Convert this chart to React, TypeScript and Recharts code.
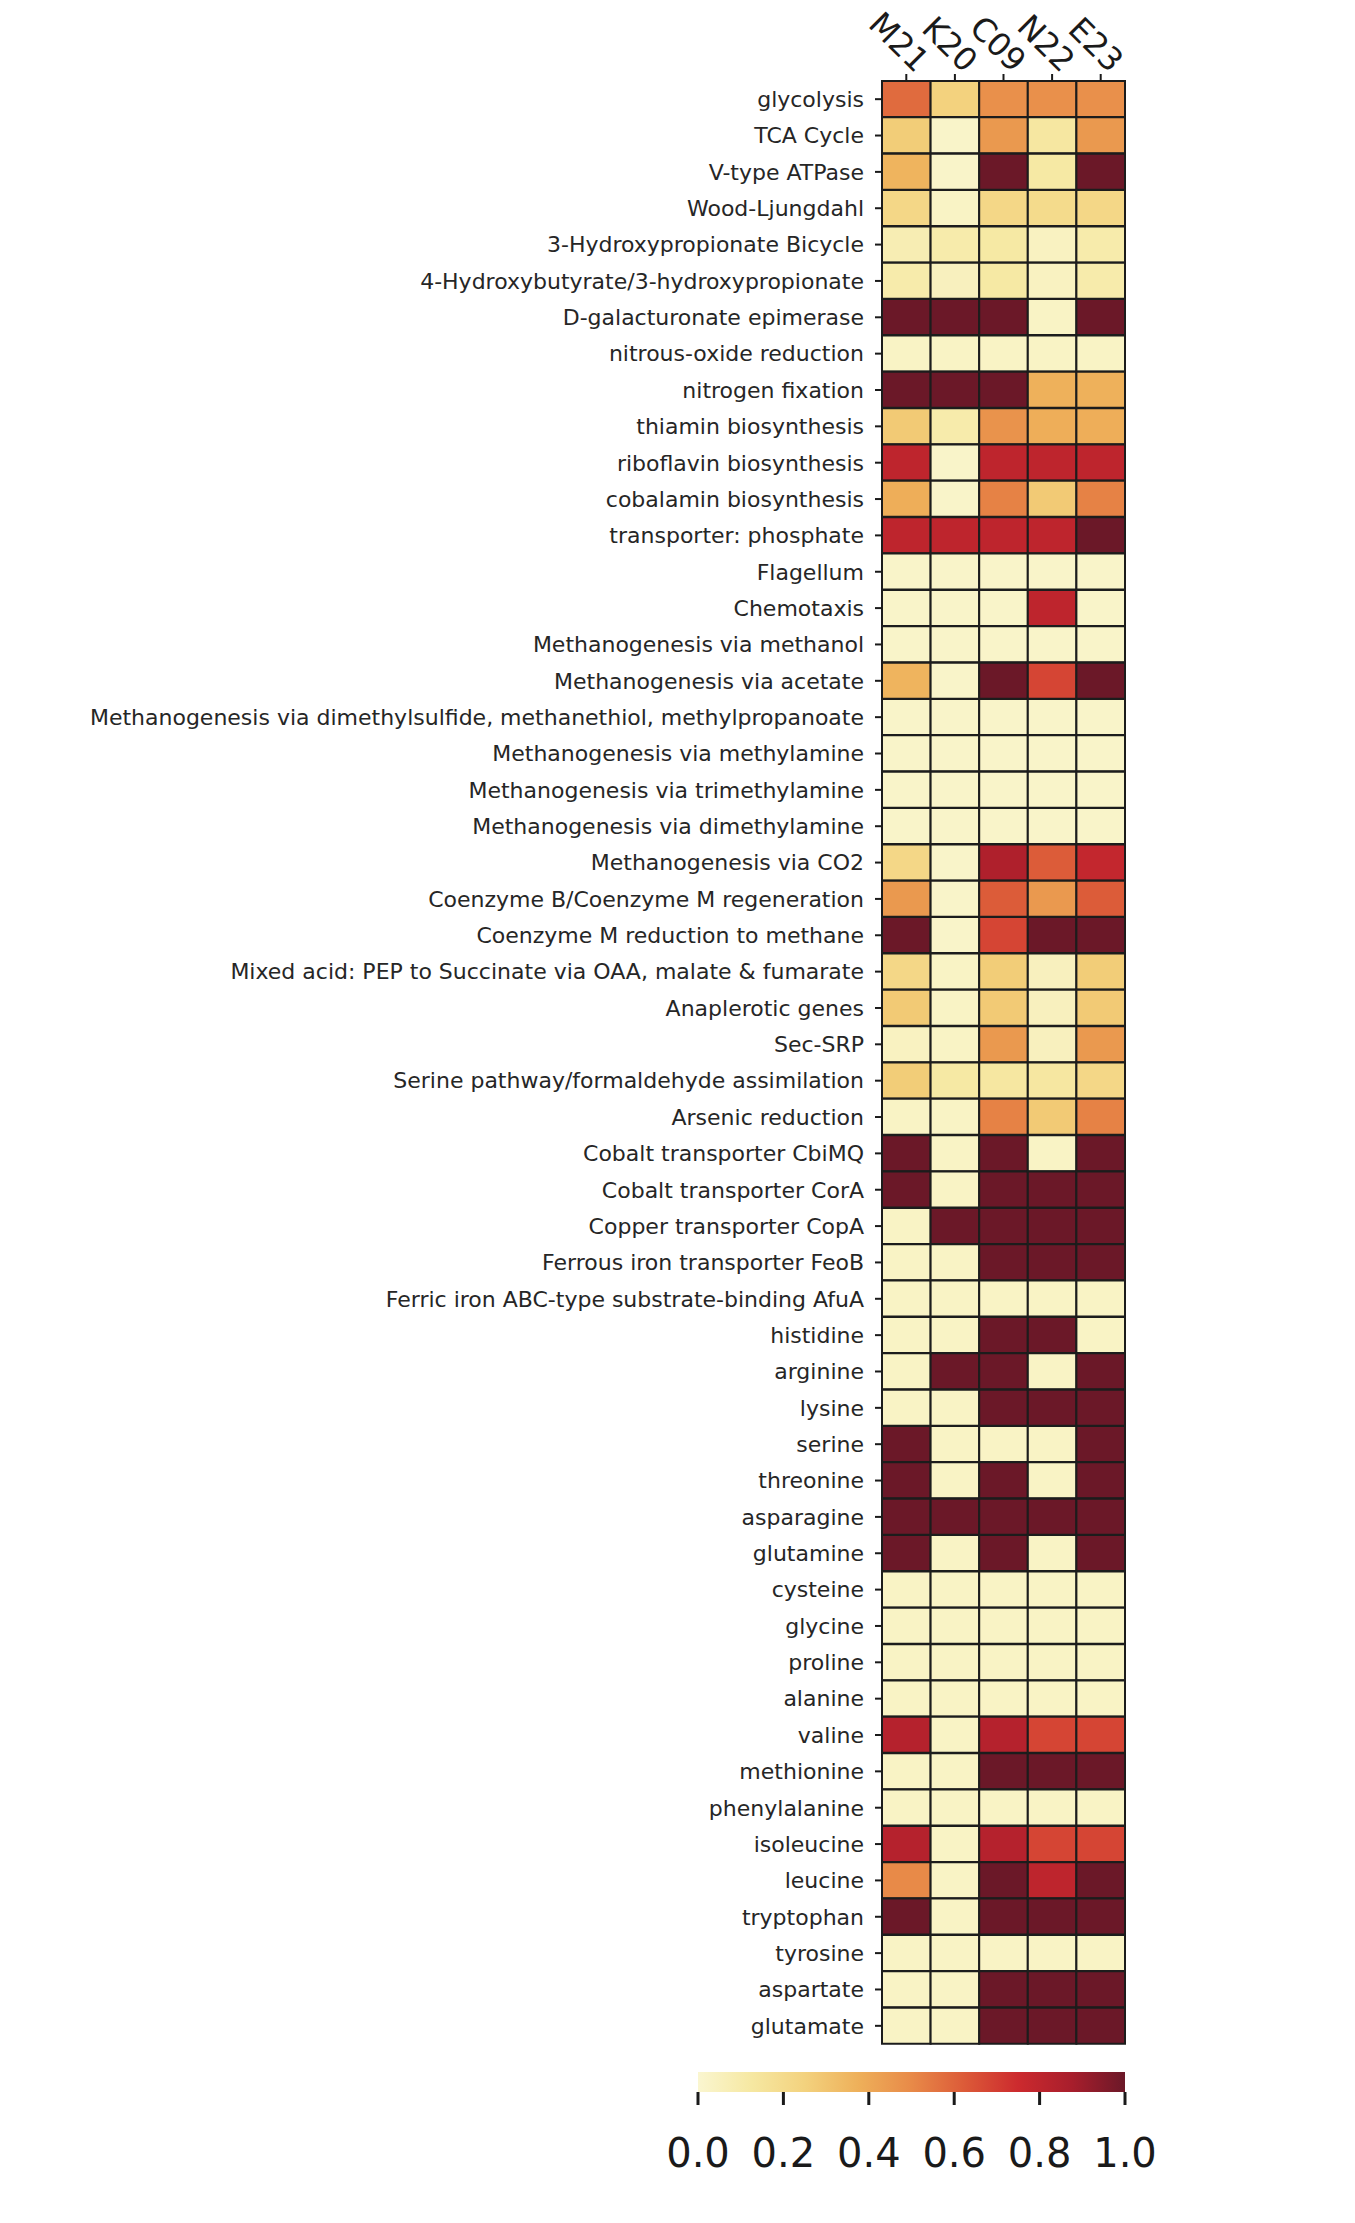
import React from 'react';
import { BarChart, Bar, XAxis, YAxis, Cell } from 'recharts';

const samples = ['M21', 'K20', 'C09', 'N22', 'E23'];

const functions = [
  'glycolysis',
  'TCA Cycle',
  'V-type ATPase',
  'Wood-Ljungdahl',
  '3-Hydroxypropionate Bicycle',
  '4-Hydroxybutyrate/3-hydroxypropionate',
  'D-galacturonate epimerase',
  'nitrous-oxide reduction',
  'nitrogen fixation',
  'thiamin biosynthesis',
  'riboflavin biosynthesis',
  'cobalamin biosynthesis',
  'transporter: phosphate',
  'Flagellum',
  'Chemotaxis',
  'Methanogenesis via methanol',
  'Methanogenesis via acetate',
  'Methanogenesis via dimethylsulfide, methanethiol, methylpropanoate',
  'Methanogenesis via methylamine',
  'Methanogenesis via trimethylamine',
  'Methanogenesis via dimethylamine',
  'Methanogenesis via CO2',
  'Coenzyme B/Coenzyme M regeneration',
  'Coenzyme M reduction to methane',
  'Mixed acid: PEP to Succinate via OAA, malate & fumarate',
  'Anaplerotic genes',
  'Sec-SRP',
  'Serine pathway/formaldehyde assimilation',
  'Arsenic reduction',
  'Cobalt transporter CbiMQ',
  'Cobalt transporter CorA',
  'Copper transporter CopA',
  'Ferrous iron transporter FeoB',
  'Ferric iron ABC-type substrate-binding AfuA',
  'histidine',
  'arginine',
  'lysine',
  'serine',
  'threonine',
  'asparagine',
  'glutamine',
  'cysteine',
  'glycine',
  'proline',
  'alanine',
  'valine',
  'methionine',
  'phenylalanine',
  'isoleucine',
  'leucine',
  'tryptophan',
  'tyrosine',
  'aspartate',
  'glutamate',
];

// completeness per sample, one value per function (same order as above)
const m21 = [
  0.58, 0.27, 0.36, 0.22, 0.08, 0.1, 1, 0.03, 1, 0.28,
  0.8, 0.38, 0.8, 0.02, 0.02, 0.02, 0.36, 0.02, 0.02, 0.02,
  0.02, 0.22, 0.45, 1, 0.22, 0.28, 0.04, 0.27, 0.03, 1,
  1, 0.03, 0.03, 0.03, 0.03, 0.03, 0.03, 1, 1, 1,
  1, 0.03, 0.03, 0.03, 0.03, 0.83, 0.03, 0.03, 0.83, 0.5,
  1, 0.03, 0.03, 0.03,
];
const k20 = [
  0.25, 0.02, 0.02, 0.03, 0.1, 0.05, 1, 0.03, 1, 0.1,
  0.02, 0.02, 0.8, 0.02, 0.02, 0.02, 0.02, 0.02, 0.02, 0.02,
  0.02, 0.02, 0.02, 0.02, 0.03, 0.03, 0.03, 0.12, 0.03, 0.03,
  0.03, 1, 0.03, 0.03, 0.03, 1, 0.03, 0.03, 0.03, 1,
  0.03, 0.03, 0.03, 0.03, 0.03, 0.03, 0.03, 0.03, 0.03, 0.03,
  0.03, 0.03, 0.03, 0.03,
];
const c09 = [
  0.48, 0.45, 1, 0.22, 0.12, 0.12, 1, 0.03, 1, 0.47,
  0.8, 0.52, 0.8, 0.02, 0.02, 0.02, 1, 0.02, 0.02, 0.02,
  0.02, 0.85, 0.62, 0.68, 0.27, 0.28, 0.45, 0.13, 0.52, 1,
  1, 1, 1, 0.03, 1, 1, 1, 0.03, 1, 1,
  1, 0.03, 0.03, 0.03, 0.03, 0.83, 1, 0.03, 0.83, 1,
  1, 0.03, 1, 1,
];
const n22 = [
  0.48, 0.13, 0.12, 0.2, 0.04, 0.04, 0.03, 0.03, 0.37, 0.38,
  0.8, 0.28, 0.8, 0.02, 0.8, 0.02, 0.68, 0.02, 0.02, 0.02,
  0.02, 0.62, 0.45, 1, 0.05, 0.05, 0.05, 0.13, 0.28, 0.03,
  1, 1, 1, 0.03, 1, 0.03, 1, 0.03, 0.03, 1,
  0.03, 0.03, 0.03, 0.03, 0.03, 0.68, 1, 0.03, 0.68, 0.8,
  1, 0.03, 1, 1,
];
const e23 = [
  0.48, 0.45, 1, 0.22, 0.1, 0.1, 1, 0.03, 0.37, 0.38,
  0.8, 0.52, 1, 0.02, 0.02, 0.02, 1, 0.02, 0.02, 0.02,
  0.02, 0.78, 0.62, 1, 0.27, 0.28, 0.45, 0.22, 0.52, 1,
  1, 1, 1, 0.03, 0.03, 1, 1, 1, 1, 1,
  1, 0.03, 0.03, 0.03, 0.03, 0.68, 1, 0.03, 0.68, 1,
  1, 0.03, 1, 1,
];

const colorbarTicks = [0, 0.2, 0.4, 0.6, 0.8, 1.0];

const values: Record<string, number[]> = { M21: m21, K20: k20, C09: c09, N22: n22, E23: e23 };

// YlOrRd-like colormap, a bit muted like the original figure
const cmapStops = [
  '#faf6d0', '#f6e8a2', '#f3d27e', '#eeb05a', '#e88a48',
  '#dc5a38', '#cc2a2e', '#a81e2c', '#6b1828',
];

const hexToRgb = (h: string) => [1, 3, 5].map(i => parseInt(h.slice(i, i + 2), 16));

const colorFor = (v: number) => {
  const t = Math.max(0, Math.min(1, v)) * (cmapStops.length - 1);
  const i = Math.min(Math.floor(t), cmapStops.length - 2);
  const f = t - i;
  const a = hexToRgb(cmapStops[i]);
  const b = hexToRgb(cmapStops[i + 1]);
  const c = a.map((x, k) => Math.round(x + (b[k] - x) * f));
  return `rgb(${c[0]},${c[1]},${c[2]})`;
};

// every cell is one unit wide; color comes from the values arrays
const tableData = functions.map(name => {
  const row: Record<string, any> = { name };
  samples.forEach(s => { row[s] = 1; });
  return row;
});

const FONT = 'DejaVu Sans, Verdana, sans-serif';

const SampleTick = (props: any) => {
  const { x, y, payload } = props;
  const label = samples[Math.floor(payload.value)];
  const ax = x + 9;
  const ay = y + 2;
  return (
    <text
      x={ax}
      y={ay}
      transform={`rotate(45, ${ax}, ${ay})`}
      textAnchor="end"
      fontSize={32}
      fontFamily={FONT}
      fill="#1a1a1a"
    >
      {label}
    </text>
  );
};

export default function App() {
  return (
    <div style={{ position: 'absolute', left: 0, top: 0, width: 1355, height: 2223, background: '#fff' }}>
      <BarChart
        width={1355}
        height={2060}
        data={tableData}
        layout="vertical"
        barCategoryGap={0}
        margin={{ top: 21, right: 230, bottom: 16, left: 0 }}
      >
        <XAxis
          type="number"
          orientation="top"
          domain={[0, 5]}
          ticks={[0.5, 1.5, 2.5, 3.5, 4.5]}
          height={60}
          axisLine={false}
          tickLine={{ stroke: '#1a1a1a', strokeWidth: 2 }}
          tickSize={7}
          tick={<SampleTick />}
          interval={0}
        />
        <YAxis
          type="category"
          dataKey="name"
          width={882}
          axisLine={false}
          interval={0}
          tickSize={7}
          tickMargin={11}
          tickLine={{ stroke: '#1a1a1a', strokeWidth: 2 }}
          tick={{ fontSize: 22, fill: '#262626', fontFamily: FONT }}
        />
        {samples.map(s => (
          <Bar key={s} dataKey={s} stackId="cells" isAnimationActive={false}>
            {functions.map((f, i) => (
              <Cell key={f} fill={colorFor(values[s][i])} stroke="#1c1c1c" strokeWidth={2} />
            ))}
          </Bar>
        ))}
      </BarChart>

      <div style={{ position: 'absolute', left: 0, top: 2060 }}>
        <BarChart
          width={1355}
          height={140}
          data={[{ name: 'colorbar', span: 1 }]}
          layout="vertical"
          barCategoryGap={0}
          margin={{ top: 12, right: 230, bottom: 0, left: 698 }}
        >
          <defs>
            <linearGradient id="cbGrad" x1="0" y1="0" x2="1" y2="0">
              {cmapStops.map((c, i) => (
                <stop key={c} offset={`${(i / (cmapStops.length - 1)) * 100}%`} stopColor={c} />
              ))}
            </linearGradient>
          </defs>
          <XAxis
            type="number"
            domain={[0, 1]}
            ticks={colorbarTicks}
            height={108}
            axisLine={false}
            tickSize={13}
            tickMargin={34}
            tickLine={{ stroke: '#1a1a1a', strokeWidth: 3 }}
            tickFormatter={(v: number) => v.toFixed(1)}
            tick={{ fontSize: 40, fill: '#1a1a1a', fontFamily: FONT }}
            interval={0}
          />
          <YAxis type="category" dataKey="name" hide />
          <Bar dataKey="span" fill="url(#cbGrad)" isAnimationActive={false} />
        </BarChart>
      </div>
    </div>
  );
}
